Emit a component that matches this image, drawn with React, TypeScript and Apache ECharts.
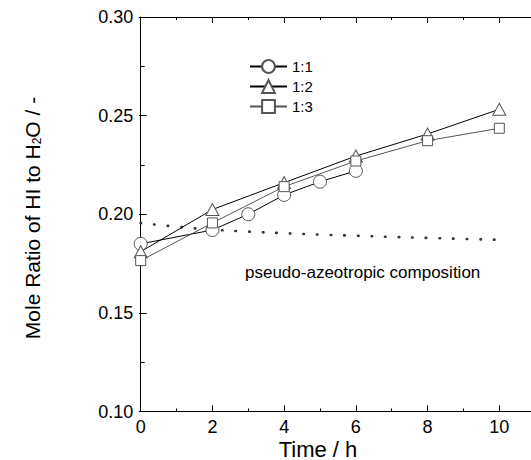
import React, { useEffect, useRef } from "react";
import * as echarts from "echarts";

const seriesNames = ["1:1", "1:2", "1:3"];
const x11 = [0, 2, 3, 4, 5, 6];
const y11 = [0.185, 0.192, 0.2, 0.2098, 0.2165, 0.222];
const x12 = [0, 2, 4, 6, 8, 10];
const y12 = [0.181, 0.2024, 0.216, 0.2295, 0.2407, 0.2532];
const x13 = [0, 2, 4, 6, 8, 10];
const y13 = [0.1765, 0.1956, 0.214, 0.227, 0.2373, 0.2436];
const xAzeo = [0, 1, 2, 3, 4, 5, 6, 7, 8, 9, 9.9];
const yAzeo = [0.1955, 0.1937, 0.1922, 0.1912, 0.1904, 0.1897, 0.1891, 0.1885, 0.188, 0.1875, 0.1871];
const xTicks = [0, 2, 4, 6, 8, 10];
const yTicks = [0.1, 0.15, 0.2, 0.25, 0.3];
const annotation = "pseudo-azeotropic composition";

const FONT = "'Liberation Sans', Arial, sans-serif";

function pairs(xs: number[], ys: number[]) {
  return xs.map((x, i) => [x, ys[i]]);
}

export default function App() {
  const ref = useRef<HTMLDivElement>(null);
  useEffect(() => {
    if (!ref.current) return;
    const chart = echarts.init(ref.current, null, { renderer: "svg" });
    const W = 545;
    const left = 140.7;
    const unit = 35.86;
    const xMax = 11;
    const rightPx = W - (left + unit * xMax);
    const top = 17;
    const bottom = 460 - 411.5;

    const axisCommon = {
      type: "value" as const,
      axisLine: { show: true, lineStyle: { color: "#000", width: 1 } },
      splitLine: { show: false },
    };
    const xBase = {
      ...axisCommon,
      min: 0,
      max: xMax,
      interval: 2,
      axisTick: { show: true, inside: true, length: 6, lineStyle: { color: "#000" } },
      minorTick: { show: true, splitNumber: 2, length: 3, lineStyle: { color: "#000" } },
    };
    const yBase = {
      ...axisCommon,
      min: yTicks[0],
      max: yTicks[yTicks.length - 1],
      interval: 0.05,
      axisTick: { show: true, inside: true, length: 6, lineStyle: { color: "#000" } },
      minorTick: { show: true, splitNumber: 2, length: 3, lineStyle: { color: "#000" } },
    };

    const markerStyle = { color: "#fff", borderColor: "#555", borderWidth: 1 };

    chart.setOption({
      animation: false,
      backgroundColor: "#fff",
      grid: { left, right: rightPx, top, bottom, containLabel: false },
      xAxis: [
        {
          ...xBase,
          position: "bottom",
          axisLabel: {
            show: true,
            margin: 6,
            fontSize: 18,
            fontFamily: FONT,
            color: "#000",
            formatter: (v: number) => (xTicks.indexOf(v) >= 0 ? String(v) : ""),
          },
        },
        { ...xBase, position: "top", axisLabel: { show: false } },
      ],
      yAxis: [
        {
          ...yBase,
          position: "left",
          axisLabel: {
            show: true,
            margin: 7.5,
            fontSize: 18,
            fontFamily: FONT,
            color: "#000",
            formatter: (v: number) => v.toFixed(2),
          },
        },
        {
          ...yBase,
          position: "right",
          offset: -4,
          axisLine: { show: false },
          axisLabel: { show: false },
        },
      ],
      legend: {
        data: seriesNames,
        orient: "vertical",
        left: 249,
        top: 59,
        padding: 0,
        itemWidth: 37,
        itemHeight: 16,
        itemGap: 5,
        textStyle: { fontSize: 15, fontFamily: FONT, color: "#000" },
      },
      series: [
        {
          name: seriesNames[0],
          type: "line",
          data: pairs(x11, y11),
          symbol: "circle",
          symbolSize: 13,
          lineStyle: { color: "#000", width: 1 },
          itemStyle: markerStyle,
          z: 3,
        },
        {
          name: seriesNames[1],
          type: "line",
          data: pairs(x12, y12),
          symbol: "triangle",
          symbolSize: [13, 12],
          lineStyle: { color: "#000", width: 1 },
          itemStyle: markerStyle,
          z: 3,
        },
        {
          name: seriesNames[2],
          type: "line",
          data: pairs(x13, y13),
          symbol: "rect",
          symbolSize: 10,
          lineStyle: { color: "#555", width: 1 },
          itemStyle: markerStyle,
          z: 3,
        },
        {
          name: "azeo",
          type: "line",
          data: pairs(xAzeo, yAzeo),
          symbol: "none",
          smooth: true,
          lineStyle: { color: "#333", width: 2.6, type: [0.5, 13.1], cap: "round" },
          z: 2,
        },
      ],
      graphic: [
        {
          type: "text",
          left: 245,
          top: 264,
          style: { text: annotation, fontSize: 17, fontFamily: FONT, fill: "#000" },
        },
        {
          type: "text",
          x: 318,
          y: 449,
          style: {
            text: "Time / h",
            fontSize: 22,
            fontFamily: FONT,
            fill: "#000",
            align: "center",
            verticalAlign: "middle",
          },
        },
        {
          type: "text",
          x: 32,
          y: 218,
          rotation: Math.PI / 2,
          style: {
            text: "Mole Ratio of HI to H{sub|2}O / -",
            fontSize: 21,
            fontFamily: FONT,
            fill: "#000",
            align: "center",
            verticalAlign: "middle",
            rich: {
              sub: { fontSize: 12, fontFamily: FONT, fill: "#000", padding: [10, 0, 0, 0] },
            },
          },
        },
      ],
    });
    return () => chart.dispose();
  }, []);
  return (
    <div
      style={{
        position: "fixed",
        left: 0,
        top: 0,
        width: 531,
        height: 460,
        overflow: "hidden",
        background: "#fff",
      }}
    >
      <div ref={ref} style={{ width: 545, height: 460 }} />
    </div>
  );
}
